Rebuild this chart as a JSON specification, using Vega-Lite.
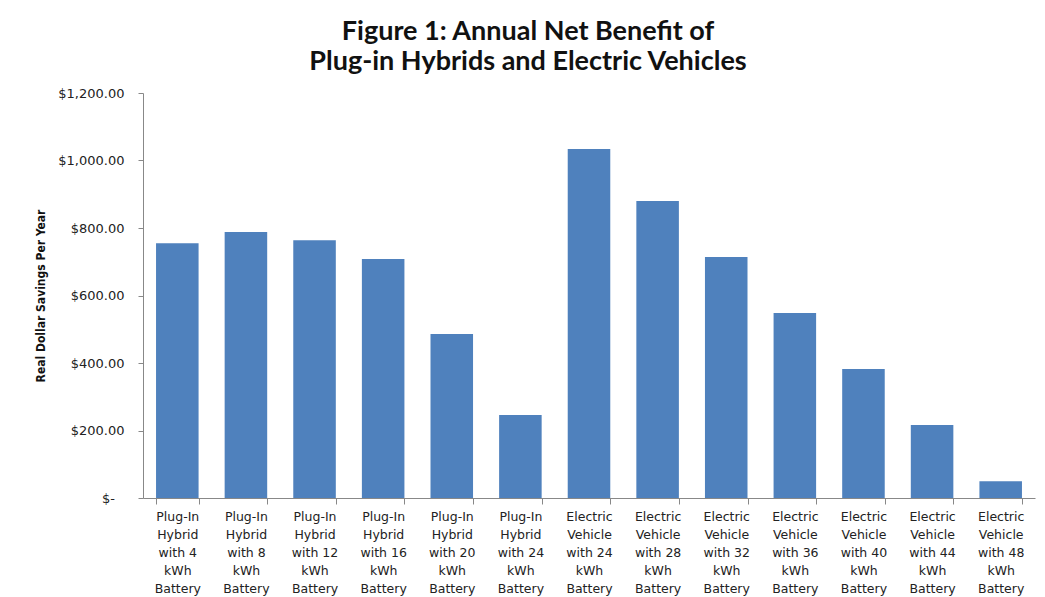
{
  "$schema": "https://vega.github.io/schema/vega-lite/v6.json",
  "width": 892,
  "height": 405,
  "autosize": "none",
  "padding": {"left": 143, "top": 93, "right": 10, "bottom": 99},
  "background": "white",
  "title": {
    "text": ["Figure 1: Annual Net Benefit of", "Plug-in Hybrids and Electric Vehicles"],
    "font": "Lato",
    "fontSize": 27,
    "fontWeight": "bold",
    "color": "#111111",
    "lineHeight": 30,
    "anchor": "middle",
    "dx": -61,
    "offset": 11
  },
  "data": {
    "values": [
      {"vehicle": "Plug-In Hybrid with 4 kWh Battery", "savings": 755},
      {"vehicle": "Plug-In Hybrid with 8 kWh Battery", "savings": 788},
      {"vehicle": "Plug-In Hybrid with 12 kWh Battery", "savings": 764},
      {"vehicle": "Plug-In Hybrid with 16 kWh Battery", "savings": 708},
      {"vehicle": "Plug-In Hybrid with 20 kWh Battery", "savings": 486},
      {"vehicle": "Plug-In Hybrid with 24 kWh Battery", "savings": 246},
      {"vehicle": "Electric Vehicle with 24 kWh Battery", "savings": 1034},
      {"vehicle": "Electric Vehicle with 28 kWh Battery", "savings": 880},
      {"vehicle": "Electric Vehicle with 32 kWh Battery", "savings": 714},
      {"vehicle": "Electric Vehicle with 36 kWh Battery", "savings": 548},
      {"vehicle": "Electric Vehicle with 40 kWh Battery", "savings": 382},
      {"vehicle": "Electric Vehicle with 44 kWh Battery", "savings": 216},
      {"vehicle": "Electric Vehicle with 48 kWh Battery", "savings": 50}
    ]
  },
  "mark": {"type": "bar", "color": "#4F81BD"},
  "encoding": {
    "x": {
      "field": "vehicle",
      "type": "nominal",
      "sort": null,
      "scale": {"paddingInner": 0.38, "paddingOuter": 0.19},
      "axis": {
        "title": null,
        "labelAngle": 0,
        "labelFont": "DejaVu Sans",
        "labelFontSize": 12.5,
        "labelColor": "#222222",
        "labelLineHeight": 18,
        "labelPadding": 6,
        "labelLimit": 0,
        "labelBaseline": "top",
        "tickBand": "extent",
        "tickSize": 6,
        "tickColor": "#888888",
        "domainColor": "#888888",
        "grid": false,
        "labelExpr": "isValid(datum.label) && datum.label != '' ? [split(datum.label,' ')[0], split(datum.label,' ')[1], split(datum.label,' ')[2] + ' ' + split(datum.label,' ')[3], split(datum.label,' ')[4], split(datum.label,' ')[5]] : ''"
      }
    },
    "y": {
      "field": "savings",
      "type": "quantitative",
      "scale": {"domain": [0, 1200], "nice": false},
      "axis": {
        "title": "Real Dollar Savings Per Year",
        "titleFont": "Liberation Sans Narrow, DejaVu Sans Condensed",
        "titleFontSize": 12,
        "titleFontWeight": "bold",
        "titleColor": "#111111",
        "titlePadding": 10,
        "values": [0, 200, 400, 600, 800, 1000, 1200],
        "labelExpr": "datum.value == 0 ? '$-\u2800' : '$' + format(datum.value, ',.2f')",
        "labelFont": "DejaVu Sans",
        "labelFontSize": 13,
        "labelColor": "#222222",
        "labelPadding": 14,
        "tickSize": 5,
        "tickColor": "#888888",
        "domainColor": "#888888",
        "grid": false
      }
    }
  },
  "config": {"view": {"stroke": null}}
}
